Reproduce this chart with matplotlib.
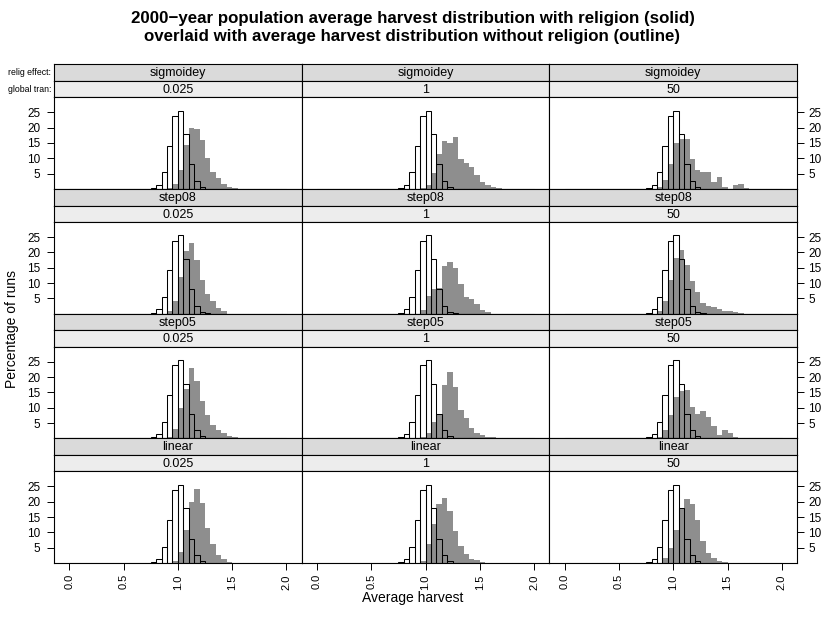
import numpy as np
import matplotlib
matplotlib.use("Agg")
import matplotlib.pyplot as plt

plt.rcParams['font.family'] = ['Liberation Sans', 'DejaVu Sans']

# histogram layout: 40 bins of width 0.05 covering 0..2
bin_width = 0.05
n_bins = 40

relig_effects = ["sigmoidey", "step08", "step05", "linear"]
global_trans = ["0.025", "1", "50"]

# percentage of runs per bin without religion (first bin starts at 0.75)
no_religion_start = 0.75
no_religion = [0.3, 1.4, 5.4, 14.1, 23.8, 25.5, 17.9, 8.0, 2.6, 0.65, 0.1]

# percentage of runs per bin with religion: (first bin lower edge, values)
sigmoidey_0025 = (0.90, [0.2, 1.5, 6.2, 14.3, 19.8, 19.5, 16.0, 10.0, 5.6, 3.5, 1.5, 0.75, 0.3, 0.1])
sigmoidey_1 = (0.95, [0.3, 1.3, 5.1, 11.3, 15.7, 14.9, 16.9, 9.7, 8.4, 7.1, 4.6, 2.4, 1.3, 0.5, 0.2])
sigmoidey_50 = (0.85, [0.5, 2.9, 8.2, 15.0, 16.2, 16.2, 9.7, 6.2, 5.4, 5.6, 2.4, 3.8, 0.6, 0.1, 1.3, 1.5, 0.2])
step08_0025 = (0.90, [0.8, 4.3, 12.0, 20.6, 23.0, 17.4, 11.1, 6.5, 4.0, 1.8, 0.8])
step08_1 = (0.95, [1.3, 5.9, 8.0, 8.4, 15.4, 16.9, 14.9, 9.8, 5.4, 4.8, 3.3, 1.1, 0.5])
step08_50 = (0.85, [0.8, 4.2, 11.1, 18.1, 20.8, 16.0, 10.5, 7.0, 3.5, 2.6, 2.2, 1.5, 1.0, 0.8, 0.5, 0.3])
step05_0025 = (0.90, [0.5, 3.0, 9.8, 16.0, 22.8, 18.7, 12.2, 7.6, 4.3, 2.7, 1.6, 0.9, 0.5])
step05_1 = (0.95, [0.5, 1.6, 5.4, 8.1, 17.4, 21.5, 16.8, 9.4, 6.5, 3.3, 1.6, 1.1, 0.5, 0.3])
step05_50 = (0.85, [0.5, 2.9, 7.6, 13.4, 15.5, 15.7, 10.1, 8.1, 8.9, 7.1, 4.0, 1.1, 2.7, 1.6, 0.3])
linear_0025 = (0.95, [0.8, 3.5, 10.7, 20.0, 24.0, 19.7, 11.6, 6.1, 2.8, 1.2, 0.4])
linear_1 = (0.95, [0.8, 6.1, 12.9, 19.4, 21.1, 17.0, 10.5, 5.5, 3.0, 1.4, 0.9, 0.5])
linear_50 = (0.90, [1.5, 4.8, 10.7, 17.8, 21.0, 19.2, 14.0, 7.3, 3.4, 1.8, 0.8, 0.3])

with_religion = {
    "sigmoidey": [sigmoidey_0025, sigmoidey_1, sigmoidey_50],
    "step08": [step08_0025, step08_1, step08_50],
    "step05": [step05_0025, step05_1, step05_50],
    "linear": [linear_0025, linear_1, linear_50],
}

y_ticks = [5, 10, 15, 20, 25]
x_ticks = [0.0, 0.5, 1.0, 1.5, 2.0]
x_tick_labels = ["0.0", "0.5", "1.0", "1.5", "2.0"]


def full_bins(start, values):
    h = np.zeros(n_bins)
    i0 = int(round(start / bin_width))
    h[i0:i0 + len(values)] = values
    return h


edges = np.arange(n_bins) * bin_width
baseline = full_bins(no_religion_start, no_religion)

W, H = 825, 634
fig = plt.figure(figsize=(W / 100, H / 100), dpi=100)

left_px, col_w = 54.0, 247.7
row_top0, row_step = 64.3, 124.7
strip_h = 16.5
panel_h = row_step - 2 * strip_h

strip1_col = "#dadada"
strip2_col = "#ededed"
fill_col = "#8e8e8e"


def fig_rect(x0, y0, w, h):
    return [x0 / W, 1 - (y0 + h) / H, w / W, h / H]


for r, effect in enumerate(relig_effects):
    top = row_top0 + r * row_step
    for c, tran in enumerate(global_trans):
        x0 = left_px + c * col_w
        # two strips above each panel
        for k, (label, col) in enumerate([(effect, strip1_col), (tran, strip2_col)]):
            sax = fig.add_axes(fig_rect(x0, top + k * strip_h, col_w, strip_h))
            sax.set_facecolor(col)
            sax.set_xticks([])
            sax.set_yticks([])
            for sp in sax.spines.values():
                sp.set_linewidth(0.8)
            sax.text(0.5, 0.45, label, ha="center", va="center", fontsize=9,
                     transform=sax.transAxes)
        # histogram panel
        ax = fig.add_axes(fig_rect(x0, top + 2 * strip_h, col_w, panel_h))
        start, vals = with_religion[effect][c]
        relig = full_bins(start, vals)
        ax.bar(edges, relig, width=bin_width, align="edge", color=fill_col,
               edgecolor="none", linewidth=0)
        ax.bar(edges, baseline, width=bin_width, align="edge", facecolor="none",
               edgecolor="black", linewidth=0.75)
        ax.set_xlim(-0.14, 2.14)
        ax.set_ylim(0, 29.9)
        for sp in ax.spines.values():
            sp.set_linewidth(0.8)
        ax.tick_params(direction="out", length=5, width=0.7, labelsize=8.5)
        ax.tick_params(axis="x", pad=3, labelsize=8)
        ax.set_yticks(y_ticks)
        if c == 0:
            ax.yaxis.set_ticks_position("left")
            ax.set_yticklabels([str(v) for v in y_ticks])
            ax.tick_params(axis="y", pad=5)
        elif c == 2:
            ax.yaxis.set_ticks_position("right")
            ax.set_yticklabels([str(v) for v in y_ticks])
            ax.tick_params(axis="y", pad=3)
        else:
            ax.set_yticks([])
        if r == len(relig_effects) - 1:
            ax.set_xticks(x_ticks)
            ax.set_xticklabels(x_tick_labels, rotation=90)
        else:
            ax.set_xticks([])

# strip variable names
fig.text(51 / W, 1 - (row_top0 + strip_h * 0.5) / H, "relig effect:", ha="right",
         va="center", fontsize=6.3)
fig.text(51 / W, 1 - (row_top0 + strip_h * 1.5) / H, "global tran:", ha="right",
         va="center", fontsize=6.3)

fig.text(0.5, 1 - 19 / H,
         "2000\u2212year population average harvest distribution with religion (solid)",
         ha="center", va="center", fontsize=12.2, fontweight="bold")
fig.text(0.5, 1 - 37 / H,
         "overlaid with average harvest distribution without religion (outline)",
         ha="center", va="center", fontsize=12.2, fontweight="bold")
fig.text(0.5, 1 - 598 / H, "Average harvest", ha="center", va="center", fontsize=10)
fig.text(12 / W, 1 - 329 / H, "Percentage of runs", ha="center", va="center",
         rotation=90, fontsize=10)

fig.savefig("out.png", dpi=100)
